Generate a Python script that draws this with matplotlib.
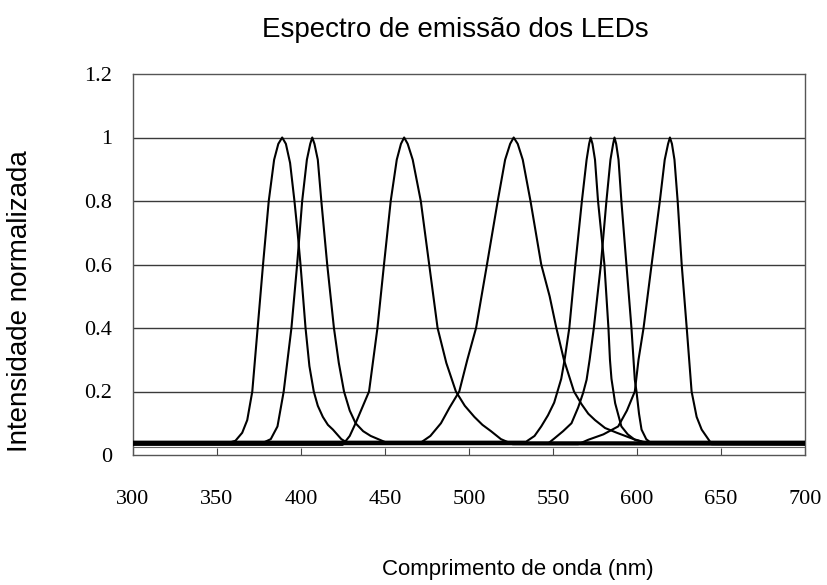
import matplotlib
matplotlib.use("Agg")
import matplotlib.pyplot as plt

# Espectros normalizados dos sete LEDs (comprimento de onda em nm, intensidade)
wl1 = [300, 355, 361, 365, 368, 371, 374.2, 377.4, 380.8, 384, 386.5, 388.8, 391, 393.5,
       396.1, 398, 399.7, 402.7, 405, 407.6, 410, 413, 416, 419, 424, 428, 700]
int1 = [0.035, 0.035, 0.045, 0.07, 0.11, 0.2, 0.4, 0.6, 0.8, 0.93, 0.98, 1.0, 0.98, 0.92,
        0.8, 0.7, 0.6, 0.4, 0.28, 0.2, 0.155, 0.12, 0.095, 0.08, 0.05, 0.037, 0.035]

wl2 = [300, 378, 382, 386, 389.7, 394.3, 397.7, 400.7, 403.5, 405.5, 406.7, 408, 410,
       412.1, 415.6, 419.6, 422.5, 425.6, 429, 432.5, 437, 441.5, 450.4, 700]
int2 = [0.04, 0.04, 0.05, 0.09, 0.2, 0.4, 0.6, 0.8, 0.93, 0.98, 1.0, 0.98, 0.93,
        0.8, 0.6, 0.4, 0.29, 0.2, 0.14, 0.1, 0.075, 0.06, 0.04, 0.04]

wl3 = [300, 424.8, 429, 432.5, 436.5, 440.5, 445.5, 449.4, 453.4, 457, 459.5, 461.4, 463.5,
       466.5, 471.3, 476.3, 481.3, 486.5, 492.2, 497.5, 503.2, 508, 513.1, 519, 526, 700]
int3 = [0.032, 0.032, 0.06, 0.1, 0.15, 0.2, 0.4, 0.6, 0.8, 0.93, 0.98, 1.0, 0.98,
        0.93, 0.8, 0.6, 0.4, 0.29, 0.2, 0.155, 0.12, 0.095, 0.075, 0.05, 0.034, 0.032]

wl4 = [300, 471, 477, 483.3, 488.5, 494.2, 499, 504.2, 510.7, 517.1, 521.5, 524.5, 526.6,
       529, 532, 536.6, 543, 548, 552, 556.5, 562.5, 567, 571, 575, 581, 588, 598, 606, 700]
int4 = [0.038, 0.038, 0.06, 0.1, 0.15, 0.2, 0.3, 0.4, 0.6, 0.8, 0.93, 0.98, 1.0,
        0.98, 0.93, 0.8, 0.6, 0.5, 0.4, 0.3, 0.2, 0.16, 0.13, 0.11, 0.085, 0.07, 0.05, 0.038, 0.038]

wl5 = [300, 534, 539, 543, 547, 550.7, 554.9, 556.9, 559.7, 563.3, 567.2, 570, 571.5, 572.4,
       573.5, 575, 576.8, 580.6, 583, 583.9, 584.8, 587, 590.7, 594.5, 598.7, 603, 700]
int5 = [0.042, 0.042, 0.06, 0.09, 0.125, 0.165, 0.24, 0.3, 0.4, 0.6, 0.8, 0.93, 0.98, 1.0,
        0.98, 0.93, 0.8, 0.6, 0.4, 0.3, 0.24, 0.163, 0.09, 0.065, 0.048, 0.042, 0.042]

wl6 = [300, 547, 551, 556, 561, 565, 567.9, 570, 571.8, 574.3, 578.5, 581.8, 584.2, 585.8,
       586.6, 587.6, 589, 590.7, 593.7, 596.7, 598.7, 599.7, 601.2, 602.7, 605.5, 608.7, 700]
int6 = [0.036, 0.036, 0.053, 0.075, 0.1, 0.15, 0.195, 0.237, 0.3, 0.4, 0.6, 0.8, 0.93, 0.98,
        1.0, 0.98, 0.93, 0.8, 0.6, 0.4, 0.237, 0.2, 0.13, 0.08, 0.05, 0.036, 0.036]

wl7 = [300, 565, 571, 580, 588.8, 594, 598.7, 600.9, 603.9, 608.7, 613.6, 616.5, 618.5, 619.6,
       620.8, 622.3, 624.2, 626.6, 629.6, 632.5, 635.5, 638.5, 644.5, 700]
int7 = [0.034, 0.034, 0.048, 0.065, 0.09, 0.14, 0.2, 0.3, 0.4, 0.6, 0.8, 0.93, 0.98, 1.0,
        0.98, 0.93, 0.8, 0.6, 0.4, 0.2, 0.12, 0.08, 0.034, 0.034]

xticks = [300, 350, 400, 450, 500, 550, 600, 650, 700]
yticks = [0, 0.2, 0.4, 0.6, 0.8, 1.0, 1.2]
ytick_labels = ["0", "0.2", "0.4", "0.6", "0.8", "1", "1.2"]

W, H = 828, 585
fig = plt.figure(figsize=(W / 100, H / 100), dpi=100)
ax = fig.add_axes([133 / W, 1 - 455 / H, (805 - 133) / W, (455 - 74) / H])

# linhas de grade horizontais
for v in yticks[1:-1]:
    ax.axhline(v, color="#3a3a3a", lw=1.0, zorder=1)
ax.axhline(0.025, color="#666666", lw=0.8, zorder=1)

curves = [(wl1, int1), (wl2, int2), (wl3, int3), (wl4, int4),
          (wl5, int5), (wl6, int6), (wl7, int7)]
for wl, inten in curves:
    ax.plot(wl, inten, color="black", lw=1.5, zorder=3, solid_joinstyle="round")

ax.set_xlim(300, 700)
ax.set_ylim(0, 1.2)

ax.set_xticks(xticks)
ax.set_xticklabels([str(t) for t in xticks], family="Liberation Serif", fontsize=16)
ax.set_yticks(yticks)
ax.set_yticklabels(ytick_labels, family="Liberation Serif", fontsize=16)
ax.tick_params(axis="x", direction="in", length=5, width=0.8, color="#444444", pad=25)
ax.tick_params(axis="y", length=0, pad=15)

for s in ax.spines.values():
    s.set_color("#555555")
    s.set_linewidth(1.0)

fig.text(455 / W, 1 - 30 / H, "Espectro de emissão dos LEDs", ha="center", va="center",
         family="Liberation Sans", fontsize=20)
fig.text(518 / W, 1 - 570 / H, "Comprimento de onda (nm)", ha="center", va="center",
         family="Liberation Sans", fontsize=16)
fig.text(20 / W, 1 - 301 / H, "Intensidade normalizada", ha="center", va="center",
         rotation=90, family="Liberation Sans", fontsize=20)

fig.savefig("out.png", dpi=100)
